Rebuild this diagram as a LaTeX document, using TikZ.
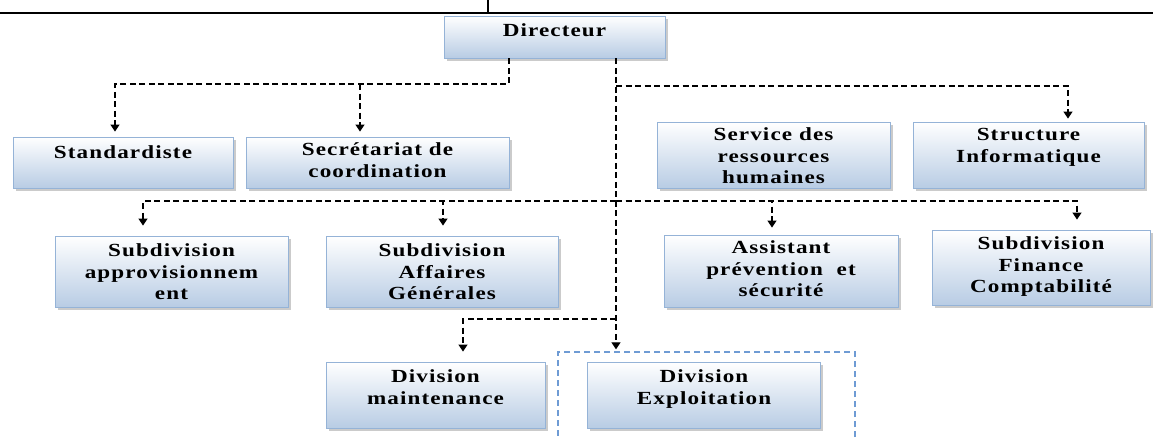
\documentclass[tikz,border=0pt]{standalone}
\usepackage{fontspec}
\setmainfont{Liberation Serif}[FakeStretch=1.25,LetterSpace=6]
\usetikzlibrary{arrows.meta,shadows}
\definecolor{boxbot}{RGB}{184,204,228}
\definecolor{boxline}{RGB}{149,179,215}
\definecolor{grpline}{RGB}{110,155,212}
\begin{document}
\begin{tikzpicture}[x=1pt,y=-1pt,
  box/.style={rectangle, draw=boxline, line width=0.8pt, top color=white, bottom color=boxbot,
    inner sep=0pt, drop shadow={shadow xshift=2.5pt, shadow yshift=-2.5pt, fill=black!40}},
  lbl/.style={anchor=north, align=center, inner sep=0pt,
    font=\fontsize{18.5}{21.5}\selectfont\bfseries},
  conn/.style={draw=black, line width=1.2pt, dash pattern=on 6pt off 3.5pt,
    -{Triangle[width=9pt,length=7pt]}},
  grp/.style={rectangle, draw=grpline, line width=1.3pt, dash pattern=on 6pt off 4pt}]
\useasboundingbox (0,0) rectangle (1153,437);
\clip (0,0) rectangle (1153,437);
\fill[white] (0,0) rectangle (1153,437);
% table borders
\draw[line width=2.2pt] (0,13) -- (1153,13);
\draw[line width=1.4pt] (488,0) -- (488,13);
% group frame
\node[grp, minimum width=297pt, minimum height=108pt] (grp) at (706.5,406) {};
% boxes
\node[box, minimum width=221pt, minimum height=42pt] (dir) at (554.5,37) {};
\node[box, minimum width=220pt, minimum height=51pt] (std) at (123,162.5) {};
\node[box, minimum width=263pt, minimum height=51pt] (sec) at (377.5,162.5) {};
\node[box, minimum width=233pt, minimum height=66pt] (srh) at (773.5,155) {};
\node[box, minimum width=231pt, minimum height=66pt] (si) at (1028.5,155) {};
\node[box, minimum width=233pt, minimum height=71pt] (appro) at (171.5,271.5) {};
\node[box, minimum width=232pt, minimum height=71pt] (ag) at (442,271.5) {};
\node[box, minimum width=234pt, minimum height=72pt] (asst) at (781,271) {};
\node[box, minimum width=218pt, minimum height=75pt] (fin) at (1041,267.5) {};
\node[box, minimum width=219pt, minimum height=66pt] (dm) at (435.5,395) {};
\node[box, minimum width=233pt, minimum height=66pt] (de) at (704,395) {};
% labels
\node[lbl] (dirT) at ([yshift=-7pt]dir.north) {\rule{0pt}{14pt}Directeur};
\node[lbl] (stdT) at ([yshift=-8pt]std.north) {\rule{0pt}{14pt}Standardiste};
\node[lbl] (secT) at ([yshift=-5pt]sec.north) {\rule{0pt}{14pt}Secrétariat de\\coordination};
\node[lbl] (srhT) at ([yshift=-5pt]srh.north) {\rule{0pt}{14pt}Service des\\ressources\\humaines};
\node[lbl] (siT) at ([yshift=-5pt]si.north) {\rule{0pt}{14pt}Structure\\Informatique};
\node[lbl] (approT) at ([yshift=-7pt]appro.north) {\rule{0pt}{14pt}Subdivision\\approvisionnem\\ent};
\node[lbl] (agT) at ([yshift=-7pt]ag.north) {\rule{0pt}{14pt}Subdivision\\Affaires\\Générales};
\node[lbl] (asstT) at ([yshift=-5pt]asst.north) {\rule{0pt}{14pt}Assistant\\prévention\ \ et\\sécurité};
\node[lbl] (finT) at ([yshift=-6pt]fin.north) {\rule{0pt}{14pt}Subdivision\\Finance\\Comptabilité};
\node[lbl] (dmT) at ([yshift=-7pt]dm.north) {\rule{0pt}{14pt}Division\\maintenance};
\node[lbl] (deT) at ([yshift=-7pt]de.north) {\rule{0pt}{14pt}Division\\Exploitation};
% junction coordinates
\coordinate (lft) at ([xshift=-45.5pt]dir.south);
\coordinate (trk) at ([xshift=61.5pt]dir.south);
\coordinate (j1) at (lft |- 0,84);
\coordinate (jsec) at (360,84);
\coordinate (t1) at (trk |- 0,86);
\coordinate (r2) at (trk |- 0,201);
\coordinate (r3) at (trk |- 0,319);
% connectors
\draw[conn, shorten >=5pt] (lft) -- (j1) -| ([xshift=-8pt]std.north);
\draw[conn, shorten >=5pt] (jsec) -- ([xshift=-17.5pt]sec.north);
\draw[conn, shorten >=2pt] (trk) -- (trk |- grp.north);
\draw[conn, shorten >=3pt] (t1) -| ([xshift=39.5pt]si.north);
\draw[conn, shorten >=10pt] (r2) -| ([xshift=-28.5pt]appro.north);
\draw[conn, shorten >=10pt] (r2) -| ([xshift=1pt]ag.north);
\draw[conn, shorten >=7pt] (r2) -| ([xshift=-9pt]asst.north);
\draw[conn, shorten >=10pt] (r2) -| ([xshift=36pt]fin.north);
\draw[conn, shorten >=10pt] (r3) -| ([xshift=27.5pt]dm.north);
\end{tikzpicture}
\end{document}
